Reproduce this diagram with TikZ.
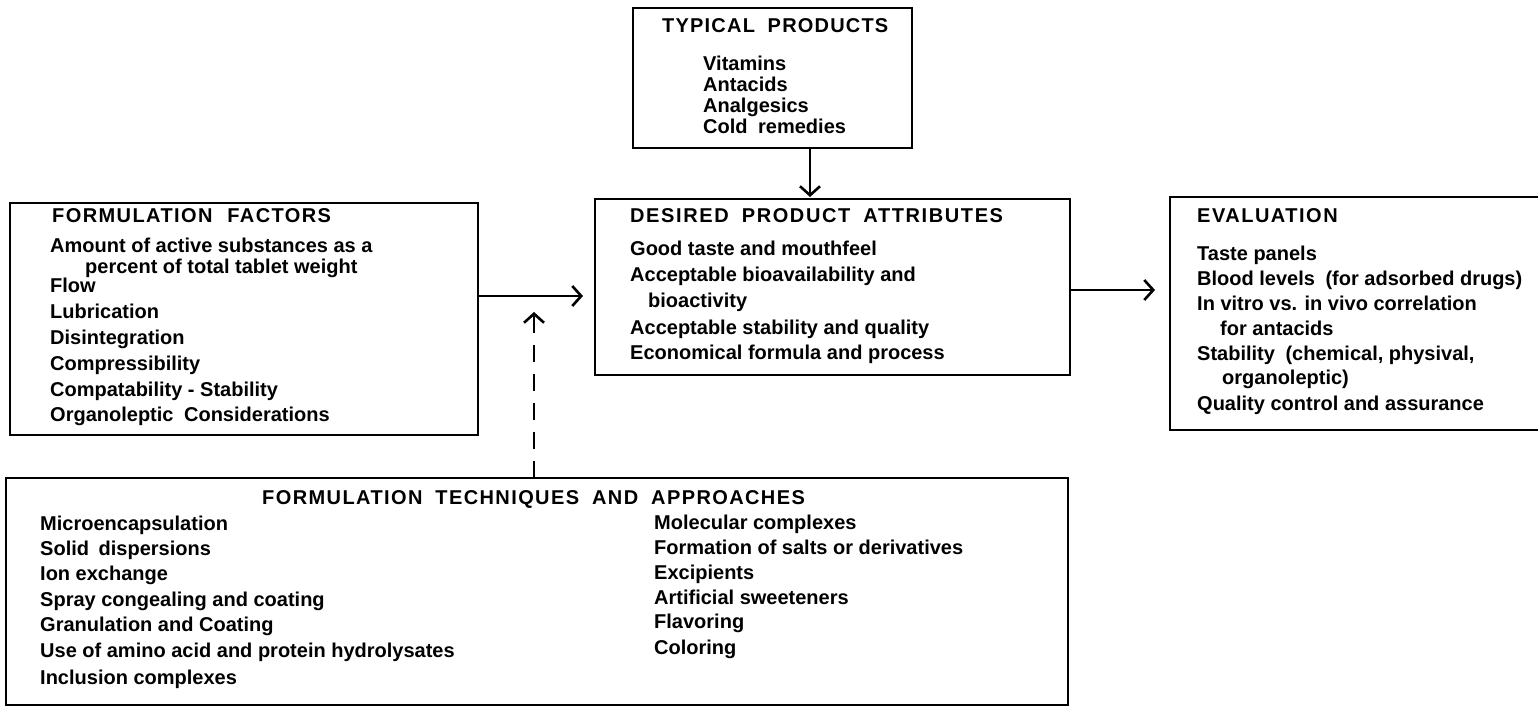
\documentclass[tikz,border=0pt]{standalone}
\usepackage{fontspec}
\setmainfont{Liberation Sans}
\usetikzlibrary{arrows.meta}
\newcommand{\boxtitle}[2]{{\addfontfeature{LetterSpace=#1}#2}}
\newcommand{\wgap}{\hspace{6pt}}
\begin{document}
\begin{tikzpicture}[x=1pt,y=-1pt,
  box/.style={draw, line width=2.6pt, inner sep=0pt, outer sep=0pt, anchor=north west},
  txt/.style={anchor=mid west, inner sep=0pt, font=\fontsize{20}{24}\selectfont\bfseries},
  arr/.style={line width=2.6pt, -{Straight Barb[length=9pt,width=20pt,line width=2.6pt]}},
  dasharr/.style={line width=2pt, dash pattern=on 17pt off 12pt, -{Straight Barb[length=9pt,width=20pt,line width=2.6pt]}},
]
\clip (0,0) rectangle (1538,707);
\fill[white] (0,0) rectangle (1538,707);

% boxes
\node[box, minimum width=279pt, minimum height=140pt] (tp) at (633,8) {};
\node[box, minimum width=468pt, minimum height=232pt] (ff) at (10,203) {};
\node[box, minimum width=475pt, minimum height=176pt] (dpa) at (595,199) {};
\node[box, minimum width=380pt, minimum height=233pt] (ev) at (1170,197) {};
\node[box, minimum width=1062pt, minimum height=227pt] (ft) at (6,478) {};

% typical products
\node[txt] (tpt) at (662,30) {\boxtitle{6}{TYPICAL\wgap{} PRODUCTS}};
\node[txt] (tp1) at (703,68) {Vitamins};
\node[txt] (tp2) at (703,89) {Antacids};
\node[txt] (tp3) at (703,110) {Analgesics};
\node[txt] (tp4) at (703,131) {Cold\hspace{5pt} remedies};

% formulation factors
\node[txt] (fft) at (52,220) {\boxtitle{7}{FORMULATION\hspace{8pt} FACTORS}};
\node[txt] (ff1) at (50,250) {Amount of active substances as a};
\node[txt] (ff1b) at (85,271) {percent of total tablet weight};
\node[txt] (ff2) at (50,290) {Flow};
\node[txt] (ff3) at (50,316) {Lubrication};
\node[txt] (ff4) at (50,342) {Disintegration};
\node[txt] (ff5) at (50,368) {Compressibility};
\node[txt] (ff6) at (50,394) {Compatability - Stability};
\node[txt] (ff7) at (50,419) {Organoleptic\hspace{5pt} Considerations};

% desired product attributes
\node[txt] (dpat) at (630,220) {\boxtitle{8}{DESIRED\wgap{} PRODUCT\wgap{} ATTRIBUTES}};
\node[txt] (dpa1) at (630,253) {Good taste and mouthfeel};
\node[txt] (dpa2) at (630,279) {Acceptable bioavailability and};
\node[txt] (dpa2b) at (648,305) {bioactivity};
\node[txt] (dpa3) at (630,332) {Acceptable stability and quality};
\node[txt] (dpa4) at (630,357) {Economical formula and process};

% evaluation
\node[txt] (evt) at (1197,220) {\boxtitle{7.5}{EVALUATION}};
\node[txt] (ev1) at (1197,258) {Taste panels};
\node[txt] (ev2) at (1197,283) {Blood levels\hspace{5pt} (for adsorbed drugs)};
\node[txt] (ev3) at (1197,308) {In vitro vs. in vivo correlation};
\node[txt] (ev3b) at (1220,333) {for antacids};
\node[txt] (ev4) at (1197,358) {Stability\hspace{5pt} (chemical, physival,};
\node[txt] (ev4b) at (1222,382) {organoleptic)};
\node[txt] (ev5) at (1197,408) {Quality control and assurance};

% formulation techniques
\node[txt] (ftt) at (262,502) {\boxtitle{7}{FORMULATION\wgap{} TECHNIQUES\wgap{} AND\wgap{} APPROACHES}};
\node[txt] (ftl1) at (40,528) {Microencapsulation};
\node[txt] (ftl2) at (40,553) {Solid\hspace{4pt} dispersions};
\node[txt] (ftl3) at (40,578) {Ion exchange};
\node[txt] (ftl4) at (40,604) {Spray congealing and coating};
\node[txt] (ftl5) at (40,629) {Granulation and Coating};
\node[txt] (ftl6) at (40,655) {Use of amino acid and protein hydrolysates};
\node[txt] (ftl7) at (40,682) {Inclusion complexes};
\node[txt] (ftr1) at (654,527) {Molecular complexes};
\node[txt] (ftr2) at (654,552) {Formation of salts or derivatives};
\node[txt] (ftr3) at (654,577) {Excipients};
\node[txt] (ftr4) at (654,602) {Artificial sweeteners};
\node[txt] (ftr5) at (654,626) {Flavoring};
\node[txt] (ftr6) at (654,652) {Coloring};

% connectors
\coordinate (ax) at (810,0);
\coordinate (ay1) at (0,296);
\coordinate (ay2) at (0,290);
\coordinate (dtip) at (534,312);
\draw[arr, shorten >=2pt] (tp.south -| ax) -- (dpa.north -| ax);
\draw[arr, shorten >=12pt] (ff.east |- ay1) -- (dpa.west |- ay1);
\draw[arr, shorten >=15pt] (dpa.east |- ay2) -- (ev.west |- ay2);
\draw[dasharr] (ft.north -| dtip) -- (dtip);
\end{tikzpicture}
\end{document}
